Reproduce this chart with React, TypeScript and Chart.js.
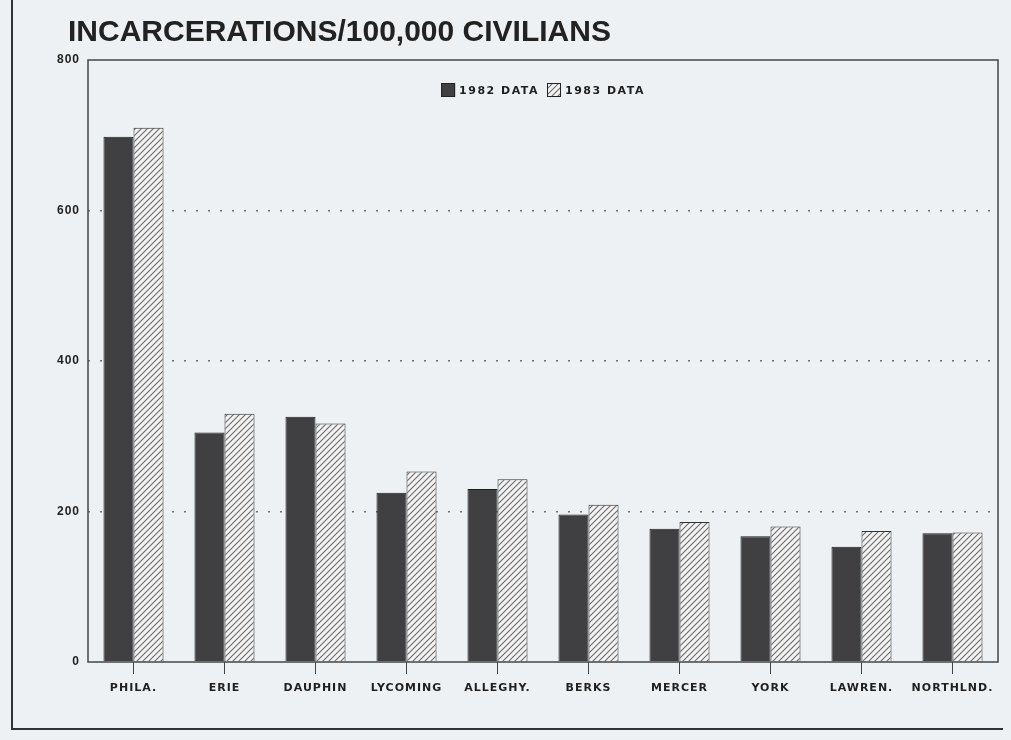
import React, { useEffect, useRef } from "react";
import { Chart, registerables } from "chart.js";

Chart.register(...registerables);

const categories = ["PHILA.", "ERIE", "DAUPHIN", "LYCOMING", "ALLEGHY.", "BERKS", "MERCER", "YORK", "LAWREN.", "NORTHLND."];
const data1982 = [698, 305, 326, 225, 230, 196, 177, 167, 153, 171];
const data1983 = [710, 330, 317, 253, 243, 209, 186, 180, 174, 172];
const yTicks = [0, 200, 400, 600, 800];
const seriesLabels = ["1982 DATA", "1983 DATA"];
const titleText = "INCARCERATIONS/100,000 CIVILIANS";

const PAPER = "#eef1f4";
const DARK = "#404042";
const INK = "#1f1f1f";

function makeHatch(): CanvasPattern | string {
  const c = document.createElement("canvas");
  const s = 6;
  c.width = s;
  c.height = s;
  const g = c.getContext("2d");
  if (!g) return "#ddd";
  g.fillStyle = "#f3f3f3";
  g.fillRect(0, 0, s, s);
  g.strokeStyle = "#6a6a6a";
  g.lineWidth = 1.1;
  g.beginPath();
  g.moveTo(0, s);
  g.lineTo(s, 0);
  g.moveTo(-1, 1);
  g.lineTo(1, -1);
  g.moveTo(s - 1, s + 1);
  g.lineTo(s + 1, s - 1);
  g.stroke();
  const p = g.createPattern(c, "repeat");
  return p || "#ddd";
}

export default function App() {
  const ref = useRef<HTMLCanvasElement | null>(null);

  useEffect(() => {
    if (!ref.current) return;
    const hatch = makeHatch();

    const decor = {
      id: "decor",
      beforeDraw(chart: any) {
        const { ctx, width, height } = chart;
        ctx.save();
        ctx.fillStyle = PAPER;
        ctx.fillRect(0, 0, width, height);
        ctx.restore();
        (ctx as any).letterSpacing = "1px";
      },
      afterDraw(chart: any) {
        const { ctx, chartArea: a, width } = chart;
        ctx.save();
        // outer frame (left + bottom)
        ctx.strokeStyle = "#333";
        ctx.lineWidth = 2;
        ctx.beginPath();
        ctx.moveTo(12, 0);
        ctx.lineTo(12, 729);
        ctx.lineTo(width - 8, 729);
        ctx.stroke();
        // plot box
        ctx.strokeStyle = "#444";
        ctx.lineWidth = 1.5;
        ctx.strokeRect(a.left, a.top, a.right - a.left, a.bottom - a.top);
        // title
        (ctx as any).letterSpacing = "0px";
        ctx.fillStyle = "#222";
        ctx.font = "bold 30px 'Liberation Sans', Arial, sans-serif";
        ctx.textAlign = "left";
        ctx.textBaseline = "alphabetic";
        ctx.fillText(titleText, 68, 41);
        // legend
        (ctx as any).letterSpacing = "1.5px";
        ctx.font = "bold 11px 'DejaVu Sans', sans-serif";
        ctx.textBaseline = "middle";
        const box = 14;
        const gap = 4;
        const itemGap = 8;
        const widths = seriesLabels.map((t) => ctx.measureText(t).width);
        const total = box + gap + widths[0] + itemGap + box + gap + widths[1];
        let x = (a.left + a.right) / 2 - total / 2;
        const cy = a.top + 30;
        const fills = [DARK, hatch];
        seriesLabels.forEach((t, i) => {
          ctx.fillStyle = fills[i] as any;
          ctx.fillRect(x, cy - box / 2, box, box);
          ctx.strokeStyle = "#222";
          ctx.lineWidth = 1;
          ctx.strokeRect(x + 0.5, cy - box / 2 + 0.5, box - 1, box - 1);
          x += box + gap;
          ctx.fillStyle = INK;
          ctx.fillText(t, x, cy + 1);
          x += widths[i] + itemGap;
        });
        ctx.restore();
      },
    };

    const chart = new Chart(ref.current, {
      type: "bar",
      data: {
        labels: categories,
        datasets: [
          {
            label: seriesLabels[0],
            data: data1982,
            backgroundColor: DARK,
            borderColor: "#1c1c1c",
            borderWidth: 1,
            barPercentage: 1,
            categoryPercentage: 0.66,
          },
          {
            label: seriesLabels[1],
            data: data1983,
            backgroundColor: hatch as any,
            borderColor: "#333",
            borderWidth: 1,
            barPercentage: 1,
            categoryPercentage: 0.66,
          },
        ],
      },
      options: {
        animation: false,
        responsive: true,
        maintainAspectRatio: false,
        layout: { padding: { left: 0, right: 13, top: 60, bottom: 0 } },
        plugins: {
          legend: { display: false },
          title: { display: false },
          tooltip: { enabled: false },
        },
        scales: {
          x: {
            afterFit(scale: any) {
              scale.height = 78;
            },
            grid: {
              display: true,
              drawOnChartArea: false,
              drawTicks: true,
              offset: false,
              tickLength: 12,
              tickColor: "#444",
              tickWidth: 1,
            },
            border: { display: false },
            ticks: {
              color: INK,
              padding: 8,
              autoSkip: false,
              maxRotation: 0,
              font: { family: "'DejaVu Sans', sans-serif", weight: "bold", size: 11 },
            },
          },
          y: {
            min: 0,
            max: 800,
            afterBuildTicks(scale: any) {
              scale.ticks = yTicks.map((v) => ({ value: v }));
            },
            afterFit(scale: any) {
              scale.width = 88;
            },
            grid: {
              drawTicks: false,
              lineWidth: 1.4,
              color: (ctx: any) =>
                ctx.tick && (ctx.tick.value === 0 || ctx.tick.value === 800) ? "rgba(0,0,0,0)" : "#707070",
            },
            border: { display: false, dash: [2, 10] },
            ticks: {
              color: INK,
              padding: 8,
              font: { family: "'Liberation Sans', Arial, sans-serif", weight: "bold", size: 12 },
            },
          },
        },
      },
      plugins: [decor],
    });

    return () => chart.destroy();
  }, []);

  return (
    <div style={{ position: "fixed", left: 0, top: 0, width: 1011, height: 740, background: PAPER }}>
      <canvas ref={ref} />
    </div>
  );
}
